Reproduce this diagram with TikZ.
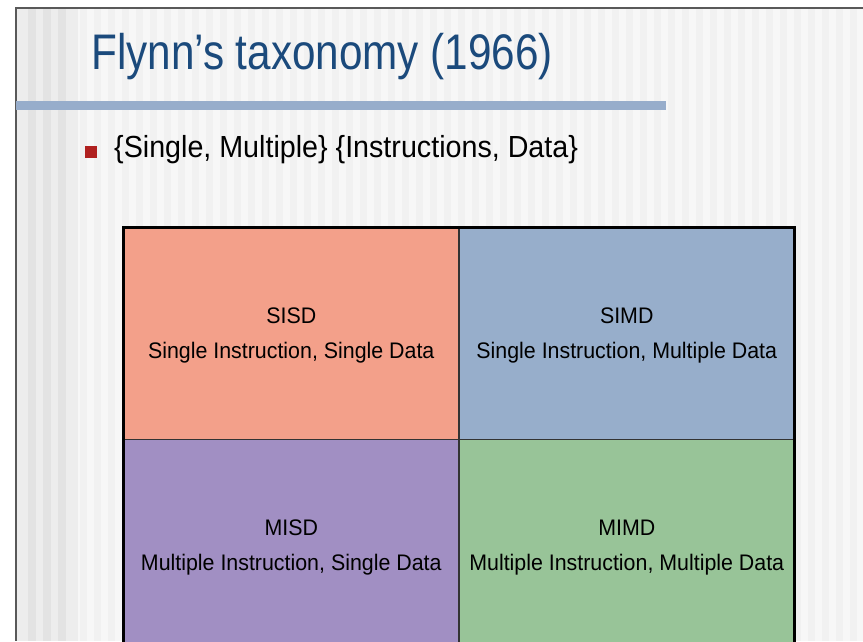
\documentclass[tikz,border=0pt]{standalone}
\usepackage{fontspec}
\setmainfont{Liberation Sans}
\usetikzlibrary{positioning}

\definecolor{titleblue}{HTML}{1B4A7C}
\definecolor{barblue}{HTML}{97ADCB}
\definecolor{bulletred}{HTML}{B0201F}
\definecolor{sisdcol}{HTML}{F3A08A}
\definecolor{simdcol}{HTML}{97AECB}
\definecolor{misdcol}{HTML}{A18FC3}
\definecolor{mimdcol}{HTML}{98C498}

\newcommand{\celltext}[2]{\scalebox{0.95}[1]{#1}\\\scalebox{0.95}[1]{#2}}

\begin{document}
\begin{tikzpicture}
[x=1pt, y=-1pt,
 cell/.style={minimum width=335.5pt, minimum height=212pt, inner sep=0pt,
   outer sep=0pt, align=center, draw=black!80, line width=1.5pt,
   text depth=-1.5pt, font=\fontsize{22.5}{35}\selectfont}]

\useasboundingbox (0,0) rectangle (863,641);
\clip (0,0) rectangle (863,641);
\fill[white] (0,0) rectangle (863,641);

% striped slide background
\fill[black!7] (16,8) rectangle (78,641);
\foreach \x in {28,43,58}
  \fill[black!11] (\x,8) rectangle ++(8,633);
\fill[black!3] (78,8) rectangle (863,641);
\foreach \x in {80,94,...,860}
  \fill[black!5.5] (\x,8) rectangle ++(7,633);
\draw[line width=1.6pt, black!65] (863,8) -- (16,8) -- (16,641);

\node[anchor=base west, inner sep=0pt, text=titleblue,
  font=\fontsize{50}{60}\selectfont] (title) at (91,69)
  {\scalebox{0.845}[1]{Flynn’s taxonomy (1966)}};
\fill[barblue] (16,101) rectangle (666,110);

\node[fill=bulletred, minimum size=12.5pt, inner sep=0pt, anchor=north west]
  (bullet) at (84.5,145.5) {};
\node[anchor=base west, inner sep=0pt, font=\fontsize{30.5}{36}\selectfont]
  (point) at (114,157)
  {\scalebox{0.94}[1]{\{Single, Multiple\} \{Instructions, Data\}}};

\node[cell, fill=sisdcol, anchor=north west] (sisd) at (123.5,227.5)
  {\celltext{SISD}{Single Instruction, Single Data}};
\node[cell, fill=simdcol, right=0pt of sisd] (simd)
  {\celltext{SIMD}{Single Instruction, Multiple Data}};
\node[cell, fill=misdcol, below=0pt of sisd] (misd)
  {\celltext{MISD}{Multiple Instruction, Single Data}};
\node[cell, fill=mimdcol, right=0pt of misd] (mimd)
  {\celltext{MIMD}{Multiple Instruction, Multiple Data}};

\draw[line width=3pt] (sisd.north west) rectangle (mimd.south east);

\end{tikzpicture}
\end{document}
